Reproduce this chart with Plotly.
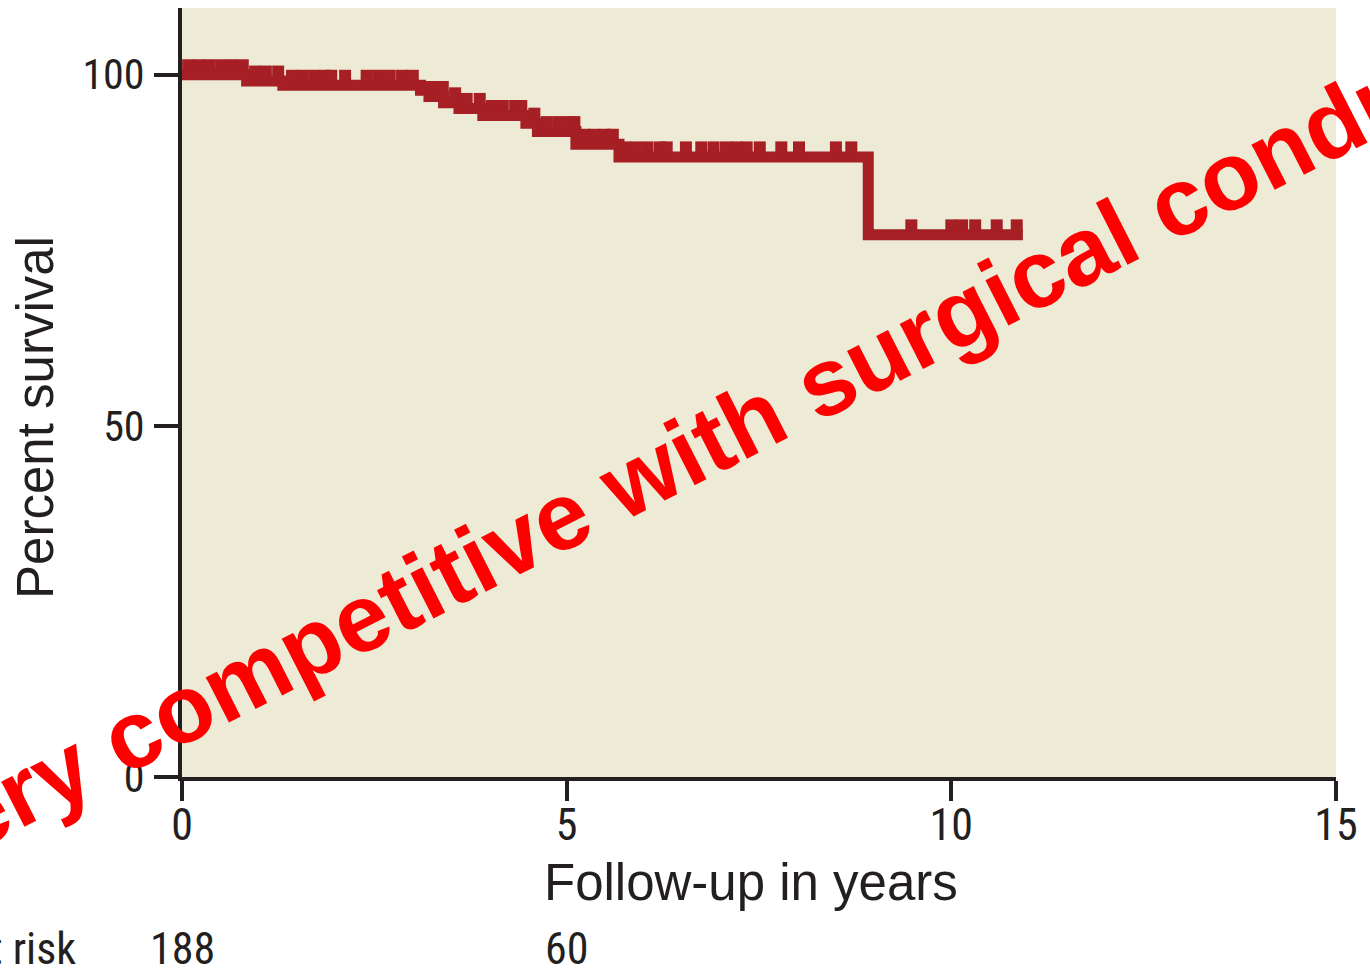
import numpy as np
import plotly.graph_objects as go

# Kaplan-Meier estimate: times (years) where the survival level changes, and the level after each change
step_years = [0, 0.84, 1.31, 3.10, 3.21, 3.40, 3.60, 3.91, 4.47, 4.62, 5.12, 5.68, 8.92]
survival_pct = [100, 99.1, 98.5, 97.8, 96.9, 96.0, 95.2, 94.2, 93.1, 91.9, 90.1, 88.3, 77.2]
last_follow_up = 10.93

# censored observations (years)
censored_years = [
    0.08, 0.22, 0.36, 0.51, 0.65, 0.79,
    0.95, 1.09, 1.25,
    1.43, 1.57, 1.72, 1.86, 1.94, 2.12, 2.40, 2.55, 2.70, 2.86, 3.00,
    3.25, 3.39, 3.55, 3.70, 3.87,
    4.03, 4.17, 4.33, 4.41, 4.58,
    4.74, 4.89, 5.03, 5.10, 5.23, 5.36, 5.50, 5.60,
    5.76, 5.90, 6.05, 6.21, 6.30, 6.55, 6.75, 6.91, 7.07, 7.21, 7.34, 7.51,
    7.79, 8.02, 8.50, 8.70,
    9.48, 10.00, 10.14, 10.31, 10.59, 10.85,
]

# numbers at risk below the axis
risk_years = [0, 5]
risk_counts = [188, 60]

x_ticks = [0, 5, 10, 15]
y_ticks = [0, 50, 100]

CURVE = "#a51f24"
INK = "#231f20"
PANEL = "#edead6"
NARROW = "Liberation Sans Narrow, Arial Narrow, Roboto Condensed, DejaVu Sans Condensed, sans-serif"
SANS = "Liberation Sans, Arial, Helvetica, sans-serif"

curve_x = step_years + [last_follow_up]
curve_y = survival_pct + [survival_pct[-1]]

# survival level at each censoring time, ticks sit just above the curve
idx = np.searchsorted(np.array(step_years), np.array(censored_years), side="right") - 1
cens_level = np.array(survival_pct)[idx]
tick_lift = 1.35

fig = go.Figure()
fig.add_trace(go.Scatter(
    x=curve_x, y=curve_y, mode="lines", line_shape="hv",
    line=dict(color=CURVE, width=11), hoverinfo="skip", showlegend=False,
))
fig.add_trace(go.Scatter(
    x=censored_years, y=cens_level + tick_lift, mode="markers",
    marker=dict(symbol="square", size=12, color=CURVE, line=dict(width=0)),
    hoverinfo="skip", showlegend=False,
))

annotations = [
    # axis titles
    dict(text="Percent survival", xref="paper", yref="paper", x=-0.1265, y=0.467,
         xanchor="center", yanchor="middle", textangle=-90, showarrow=False,
         font=dict(family=SANS, size=51, color=INK)),
    dict(text="Follow-up in years", xref="paper", yref="paper", x=0.493, y=-0.137,
         xanchor="center", yanchor="middle", showarrow=False,
         font=dict(family=SANS, size=51, color=INK)),
    # at-risk row
    dict(text="Patients at risk", xref="paper", yref="paper", x=-0.0905, y=-0.224,
         xanchor="right", yanchor="middle", showarrow=False,
         font=dict(family=NARROW, size=44, color=INK)),
]
for yr, n in zip(risk_years, risk_counts):
    annotations.append(dict(text=str(n), xref="x", yref="paper", x=yr, y=-0.224,
                            xanchor="center", yanchor="middle", showarrow=False,
                            font=dict(family=NARROW, size=44, color=INK)))
annotations.append(dict(
    text="Very competitive with surgical conduits", xref="paper", yref="paper",
    x=0.4547, y=0.4369, xanchor="center", yanchor="middle", showarrow=False,
    textangle=-27, font=dict(family=SANS, size=96, color="#ff0000", weight="bold"),
))

fig.update_layout(
    width=1370, height=972,
    margin=dict(l=182, r=34, t=8, b=195),
    paper_bgcolor="white", plot_bgcolor=PANEL,
    annotations=annotations,
    xaxis=dict(
        range=[0, 15], tickvals=x_ticks, ticks="outside", ticklen=20, tickwidth=4,
        tickcolor=INK, showline=True, linewidth=4, linecolor=INK, showgrid=False,
        zeroline=False, tickfont=dict(family=NARROW, size=44, color=INK),
        ticklabelstandoff=-14,
    ),
    yaxis=dict(
        range=[0, 109.5], tickvals=y_ticks, ticks="outside", ticklen=24, tickwidth=4,
        tickcolor=INK, showline=True, linewidth=4, linecolor=INK, showgrid=False,
        zeroline=False, tickfont=dict(family=NARROW, size=42, color=INK),
        ticklabelstandoff=1,
    ),
)

fig.write_html("out.html")
